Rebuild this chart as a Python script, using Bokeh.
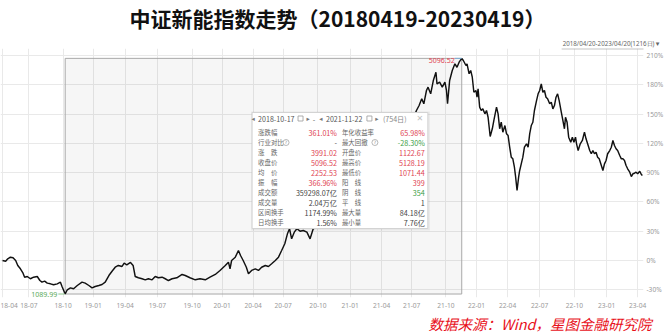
from bokeh.plotting import figure
from bokeh.models import Range1d, FixedTicker, PrintfTickFormatter, Label, BoxAnnotation, Title
from bokeh.embed import file_html
from bokeh.resources import INLINE
from bokeh.core.properties import value

# ---------------- data (trading-day index since 2018-04-20, % change) ----------------
day_idx = [0, 6, 10, 15, 20, 25, 29, 34, 39, 42, 47, 53, 59, 66, 71, 75, 80, 85, 91, 97,
           104, 110, 113, 119, 123, 129, 135, 142, 151, 157, 164, 170, 176, 183, 189, 195,
           202, 208, 214, 220, 227, 231, 236, 243, 248, 252, 258, 265, 271, 277, 284, 290,
           296, 303, 309, 315, 322, 331, 341, 347, 356, 366, 375, 385, 394, 404, 413, 423,
           429, 432, 435, 442, 448, 452, 457, 463, 467, 473, 480, 486, 492, 499, 505, 511,
           518, 524, 530, 536, 541, 545, 549, 554, 559, 565, 571, 578, 584, 590, 597,
           607, 618, 631, 645, 660, 671, 682, 690, 698, 707, 717, 726, 736, 747, 758, 770, 777,
           786, 791, 796, 800, 805, 808, 813, 818, 823, 825, 830, 835, 840, 843, 845, 849,
           854, 859, 863, 867, 872,
           875, 880, 882, 886, 889, 892, 895, 899, 901, 903, 906, 909, 912, 916, 919, 922,
           926, 930, 933, 938, 941, 944, 947, 950, 954, 957, 960, 963, 966, 969, 972, 974,
           977, 980, 982, 985, 988, 991, 995, 998, 1001, 1004, 1007, 1010, 1014, 1017, 1020,
           1023, 1026, 1029, 1032, 1035, 1039, 1042, 1045, 1048, 1051, 1054, 1057, 1061,
           1064, 1067, 1069, 1072, 1075, 1079, 1082, 1085, 1088, 1090, 1093, 1097, 1101,
           1105, 1108, 1111, 1115, 1118, 1121, 1124, 1127, 1130, 1133, 1136, 1140, 1143,
           1146, 1149, 1153, 1156, 1159, 1162, 1165, 1168, 1172, 1175, 1178, 1181, 1184,
           1187, 1191, 1194, 1197, 1200, 1203, 1206, 1210, 1213, 1215]
pct_change = [0.0, -0.7, 1.7, 3.4, 2.8, 0.0, -5.1, -8.5, -13.0, -17.1, -16.4, -18.7, -17.1,
              -16.4, -20.5, -22.2, -21.2, -23.2, -23.9, -24.9, -23.9, -22.2, -26.6, -34.34,
              -30.0, -28.0, -29.0, -25.6, -22.2, -23.2, -25.6, -28.0, -26.6, -25.6, -24.6,
              -22.2, -15.4, -11.0, -6.9, -5.1, -6.1, -2.8, -4.4, -2.0, -5.1, -16.4, -17.7,
              -18.7, -19.8, -18.7, -19.8, -16.4, -17.7, -17.1, -18.7, -20.5, -18.7, -17.7,
              -14.3, -15.4, -17.7, -19.8, -18.7, -19.8, -17.1, -14.3, -10.2, -5.1, -1.7,
              -8.5, 0.0, 3.4, 10.2, 5.1, 0.0, -6.9, -13.6, -10.2, -8.5, -10.2, -6.9, -5.1,
              -6.1, -3.4, 0.0, 3.4, 10.2, 17.1, 27.3, 32.5, 22.2, 29.0, 32.5, 30.0, 30.7,
              29.0, 22.2, 32.5, 34.1,
              40.0, 55.0, 70.0, 85.0, 100.0, 108.0, 118.0, 105.0, 82.0, 70.0, 76.0, 72.0,
              84.0, 96.0, 115.0, 130.0, 142.0,
              153.6, 158.7, 165.6, 160.5, 174.1, 177.5, 170.7, 184.3, 192.8, 180.9, 182.6,
              177.5, 182.6, 174.1, 160.5, 184.3, 194.6, 201.4, 197.9, 203.1, 207.0,
              204.8, 199.7, 201.4, 191.2, 194.6, 187.7, 172.3, 174.1, 167.2, 175.8, 157.0,
              153.6, 155.3, 150.2, 153.6, 146.7, 127.0, 134.9, 143.4, 157.0, 150.2, 134.9,
              141.6, 131.4, 138.2, 129.7, 128.0, 116.0, 105.8, 104.1, 95.5, 87.0, 71.7,
              85.3, 92.2, 99.0, 105.8, 116.0, 119.5, 116.0, 129.7, 138.2, 141.6, 153.6,
              163.8, 170.7, 174.1, 180.9, 172.3, 174.1, 167.2, 165.6, 160.5, 162.1, 155.3,
              158.7, 167.2, 170.7, 163.8, 151.9, 143.4, 134.9, 146.7, 141.6, 126.3, 121.1,
              126.3, 121.1, 126.3, 119.5, 112.6, 119.5, 122.9, 131.4, 124.6, 119.5, 112.6,
              109.3, 112.6, 109.3, 110.9, 105.8, 104.1, 99.0, 92.2, 99.0, 102.4, 109.3,
              112.6, 116.0, 122.9, 117.8, 114.4, 112.6, 107.5, 104.1, 104.1, 102.4, 97.3,
              93.9, 90.4, 86.0, 88.8, 89.4, 90.4, 88.8, 91.4, 88.1, 87.0]

tick_idx = [0, 50, 115, 172, 233, 294, 360, 417, 476, 533, 599, 660, 720, 777, 842, 900,
            959, 1020, 1086, 1147, 1206]
tick_labels = ["18-04", "18-07", "18-10", "19-01", "19-04", "19-07", "19-10", "20-01",
               "20-04", "20-07", "20-10", "21-01", "21-04", "21-07", "21-10", "22-01",
               "22-04", "22-07", "22-10", "23-01", "23-04"]
y_ticks = [-30, 0, 30, 60, 90, 120, 150, 180, 210]

sel_start_idx = 119   # 2018-10-17
sel_end_idx = 872     # 2021-11-22
sel_min_close = "1089.99"
sel_max_close = "5096.52"
sel_start_date = "2018-10-17"
sel_end_date = "2021-11-22"
sel_days = "(754日)"

left_labels = ["涨跌幅", "行业对比", "涨　跌", "收盘价", "均　价", "振　幅", "成交额", "成交量",
               "区间换手", "日均换手"]
left_values = ["361.01%", "-", "3991.02", "5096.52", "2252.53", "366.96%", "359298.07亿",
               "2.04万亿", "1174.99%", "1.56%"]
left_kinds = ["up", "flat", "up", "up", "up", "up", "flat", "flat", "flat", "flat"]
right_labels = ["年化收益率", "最大回撤", "开盘价", "最高价", "最低价", "阳　线", "阴　线", "平　线",
                "最大量", "最小量"]
right_values = ["65.98%", "-28.30%", "1122.67", "5128.19", "1071.44", "399", "354", "1",
                "84.18亿", "7.76亿"]
right_kinds = ["up", "down", "up", "up", "up", "up", "down", "flat", "flat", "flat"]
help_rows = [1]

title_text = "中证新能指数走势（20180419-20230419）"
range_text = "2018/04/20-2023/04/20(1216日)"
source_text = "数据来源：Wind，星图金融研究院"

# ---------------- layout / style ----------------
XS, XE = -3.8, 1217.1
YS, YE = -37.9, 217.1
FW, FT, FH = 644, 48, 249


def X(px):
    return XS + px / FW * (XE - XS)


def Y(py):
    return YE - (py - FT) / FH * (YE - YS)


RED = "#e04352"
GREEN = "#3b9e46"
DARK = "#444444"
kind_color = {"up": RED, "down": GREEN, "flat": DARK}
CJK = "Noto Sans CJK SC"

p = figure(width=666, height=335, output_backend="svg", toolbar_location=None, title=None,
           x_range=Range1d(XS, XE), y_range=Range1d(YS, YE), y_axis_location="right",
           min_border_left=0, min_border_right=22, min_border_top=48, min_border_bottom=38,
           background_fill_color="white", border_fill_color="white",
           outline_line_color=None)

for ax in (p.xaxis[0], p.yaxis[0]):
    ax.axis_line_color = None
    ax.major_tick_line_color = None
    ax.minor_tick_line_color = None
    ax.major_tick_out = 0
    ax.major_tick_in = 0
    ax.major_label_text_font = "Noto Sans"
    ax.major_label_text_font_size = "6.6px"
    ax.major_label_text_color = "#9a9a9a"
    ax.major_label_standoff = 3

p.xaxis.ticker = FixedTicker(ticks=tick_idx)
p.xaxis.major_label_overrides = {t: l for t, l in zip(tick_idx, tick_labels)}
p.xaxis.major_label_text_align = "left"
p.xaxis.major_label_standoff = 5
p.yaxis.ticker = FixedTicker(ticks=y_ticks)
p.yaxis.formatter = PrintfTickFormatter(format="%d%%")
p.grid.grid_line_color = "#e9e9e9"
p.grid.grid_line_width = 1

# selection rectangle derived from data
win = [v for d, v in zip(day_idx, pct_change) if sel_start_idx <= d <= sel_end_idx]
sel_lo, sel_hi = min(win), max(win)
p.quad(left=[sel_start_idx], right=[sel_end_idx], bottom=[sel_lo], top=[sel_hi],
       fill_color="#000000", fill_alpha=0.035, line_color="#a8a8a8", line_width=1)

# index line
p.line(day_idx, pct_change, line_color="#111111", line_width=1.45)

# min / max markers
p.segment(x0=[sel_start_idx - 13], y0=[sel_lo], x1=[sel_start_idx - 1], y1=[sel_lo],
          line_color="#8cc58c", line_width=1)
p.segment(x0=[sel_end_idx - 13], y0=[sel_hi], x1=[sel_end_idx], y1=[sel_hi],
          line_color="#7aaed6", line_width=1)
p.add_layout(Label(x=sel_start_idx, y=sel_lo, x_offset=-8, text=sel_min_close,
                   text_align="right", text_baseline="middle", text_font="Noto Sans",
                   text_font_size="7px", text_color="#5aaa5a"))
p.add_layout(Label(x=sel_end_idx, y=sel_hi, x_offset=-7, y_offset=-2, text=sel_max_close,
                   text_align="right", text_baseline="middle", text_font="Noto Sans",
                   text_font_size="7px", text_color=RED))

# info panel
p.quad(left=[X(251)], right=[X(430)], top=[Y(111)], bottom=[Y(230)],
       fill_color="#000000", fill_alpha=0.06, line_color=None)
p.quad(left=[X(252)], right=[X(428)], top=[Y(112)], bottom=[Y(228)],
       fill_color="white", line_color="#d3d3d3", line_width=1)

hy = Y(118)
p.text(x=[X(253), X(308), X(321), X(377)], y=[hy] * 4, text=["◂", "▸", "◂", "▸"],
       text_align="center", text_baseline="middle", text_font=value("DejaVu Sans"),
       text_font_size="6.5px", text_color="#777777")
p.text(x=[X(258), X(326)], y=[hy] * 2, text=[sel_start_date, sel_end_date],
       text_align="left", text_baseline="middle", text_font=value(CJK),
       text_font_size="7.1px", text_color="#555555")
p.text(x=[X(314)], y=[hy], text=["-"], text_align="center", text_baseline="middle",
       text_font=value(CJK), text_font_size="7.1px", text_color="#555555")
p.scatter(x=[X(300.5), X(369.5)], y=[hy] * 2, marker="square", size=5,
          fill_color="white", line_color="#9a9a9a", line_width=0.8)
p.text(x=[X(383)], y=[hy], text=[sel_days], text_align="left", text_baseline="middle",
       text_font=value(CJK), text_font_size="7.1px", text_color="#888888")
p.text(x=[X(420)], y=[hy], text=["✕"], text_align="center", text_baseline="middle",
       text_font=value("DejaVu Sans"), text_font_size="8px", text_color="#c0c0c0")

row_y = [Y(132 + 10 * i) for i in range(len(left_labels))]
p.text(x=[X(258)] * len(row_y), y=row_y, text=left_labels, text_align="left",
       text_baseline="middle", text_font=value(CJK), text_font_size="6.4px",
       text_color="#666666")
p.text(x=[X(342)] * len(row_y), y=row_y, text=right_labels, text_align="left",
       text_baseline="middle", text_font=value(CJK), text_font_size="6.4px",
       text_color="#666666")
p.text(x=[X(337)] * len(row_y), y=row_y, text=left_values, text_align="right",
       text_baseline="middle", text_font=value(CJK), text_font_size="7.2px",
       text_color=[kind_color[k] for k in left_kinds])
p.text(x=[X(425)] * len(row_y), y=row_y, text=right_values, text_align="right",
       text_baseline="middle", text_font=value(CJK), text_font_size="7.2px",
       text_color=[kind_color[k] for k in right_kinds])
for r in help_rows:
    for hx in (286, 375):
        p.scatter(x=[X(hx)], y=[row_y[r]], marker="circle", size=6, fill_color="white",
                  line_color="#999999", line_width=0.7)
        p.text(x=[X(hx)], y=[row_y[r]], text=["?"], text_align="center",
               text_baseline="middle", text_font=value("DejaVu Sans"), text_font_size="4.5px",
               text_color="#888888")

# underline of the date-range caption (top edge of the frame)
p.add_layout(BoxAnnotation(left=X(562), right=X(655), top=Y(48), bottom=Y(48.7),
                           fill_color="#888888", fill_alpha=1, line_color=None))

# texts outside the frame, as titles in the side panels (sizes kept within the borders)
p.add_layout(Title(text=range_text + "▼", align="right", offset=-17, standoff=2,
                   text_font="Noto Sans", text_font_size="6.2px", text_font_style="normal",
                   text_color="#666666"), "above")
p.add_layout(Title(text=title_text, align="left", offset=129, standoff=3,
                   vertical_align="middle",
                   text_font=CJK, text_font_size="21px", text_font_style="bold",
                   text_color="#111111"), "above")
p.add_layout(Title(text=source_text, align="right", offset=-8, standoff=1,
                   text_font=CJK, text_font_size="14.5px", text_font_style="italic",
                   text_color="#e8101a"), "below")

open("out.html", "w").write(file_html(p, INLINE))
